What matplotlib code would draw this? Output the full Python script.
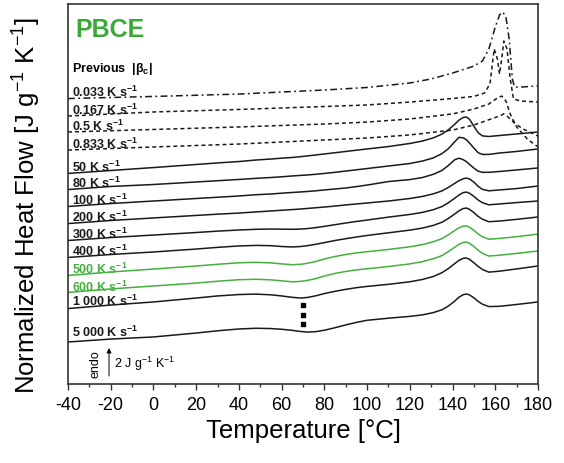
import numpy as np
import matplotlib
matplotlib.use("Agg")
import matplotlib.pyplot as plt
from matplotlib.ticker import MultipleLocator

plt.rcParams["font.family"] = ["Liberation Sans", "DejaVu Sans"]
plt.rcParams["mathtext.fontset"] = "custom"
plt.rcParams["mathtext.rm"] = "Liberation Sans"
plt.rcParams["mathtext.bf"] = "Liberation Sans:bold"
plt.rcParams["mathtext.it"] = "Liberation Sans:italic"
plt.rcParams["axes.unicode_minus"] = False

# ---- data: normalized heat flow (stacked, J g^-1 K^-1) vs temperature (deg C) ----
temp_fast = [-40, -20, 0, 20, 30, 40, 48, 55, 60, 65, 69, 72, 76, 80, 85, 90, 95, 100,
             110, 120, 126, 131, 135, 138, 141, 143, 145, 146.5, 148, 150, 152, 154,
             157, 162, 170, 180]

hf_5000 = [3.00, 3.21, 3.36, 3.64, 3.80, 3.93, 3.98, 3.96, 3.91, 3.83, 3.75, 3.71, 3.74,
           3.84, 4.02, 4.22, 4.40, 4.55, 4.70, 4.83, 4.94, 5.10, 5.30, 5.56, 5.92, 6.20,
           6.38, 6.43, 6.36, 6.15, 5.90, 5.70, 5.53, 5.55, 5.68, 5.86]
hf_1000 = [5.39, 5.64, 5.86, 6.14, 6.29, 6.39, 6.42, 6.37, 6.29, 6.19, 6.14, 6.18, 6.30,
           6.46, 6.62, 6.76, 6.88, 6.97, 7.12, 7.30, 7.47, 7.68, 7.95, 8.24, 8.60, 8.83,
           8.98, 9.00, 8.90, 8.66, 8.40, 8.18, 7.99, 8.06, 8.22, 8.43]
hf_600 = [6.54, 6.79, 7.00, 7.21, 7.34, 7.45, 7.48, 7.44, 7.37, 7.30, 7.33, 7.40, 7.53,
          7.71, 7.90, 8.04, 8.15, 8.23, 8.39, 8.58, 8.74, 8.95, 9.17, 9.45, 9.77, 9.98,
          10.11, 10.14, 10.05, 9.82, 9.55, 9.33, 9.14, 9.20, 9.33, 9.50]
hf_500 = [7.75, 8.00, 8.21, 8.43, 8.55, 8.66, 8.69, 8.65, 8.58, 8.52, 8.55, 8.62, 8.75,
          8.93, 9.11, 9.25, 9.36, 9.45, 9.61, 9.80, 9.96, 10.16, 10.38, 10.65, 10.96, 11.16,
          11.27, 11.29, 11.20, 10.97, 10.71, 10.52, 10.34, 10.40, 10.52, 10.71]
hf_400 = [9.04, 9.25, 9.43, 9.64, 9.76, 9.86, 9.90, 9.88, 9.82, 9.79, 9.82, 9.88, 9.98,
          10.10, 10.25, 10.38, 10.50, 10.61, 10.80, 10.99, 11.14, 11.33, 11.55, 11.82, 12.14,
          12.37, 12.53, 12.57, 12.47, 12.24, 11.97, 11.77, 11.59, 11.64, 11.76, 11.93]
hf_300 = [10.25, 10.46, 10.64, 10.82, 10.92, 11.00, 11.05, 11.07, 11.06, 11.05, 11.07, 11.10,
          11.17, 11.26, 11.38, 11.50, 11.61, 11.71, 11.92, 12.11, 12.26, 12.45, 12.67, 12.94,
          13.27, 13.50, 13.67, 13.71, 13.62, 13.40, 13.14, 12.95, 12.80, 12.86, 12.96, 13.07]
hf_200 = [11.46, 11.68, 11.86, 12.04, 12.13, 12.21, 12.29, 12.36, 12.41, 12.46, 12.50, 12.54,
          12.59, 12.64, 12.71, 12.79, 12.86, 12.93, 13.07, 13.25, 13.40, 13.58, 13.79, 14.04,
          14.33, 14.52, 14.66, 14.71, 14.64, 14.42, 14.12, 13.90, 13.80, 13.86, 13.96, 14.14]
hf_100 = [12.68, 12.89, 13.07, 13.25, 13.34, 13.43, 13.52, 13.57, 13.63, 13.68, 13.72, 13.75,
          13.80, 13.86, 13.93, 14.00, 14.10, 14.21, 14.46, 14.60, 14.75, 14.98, 15.25, 15.60,
          16.02, 16.13, 16.02, 15.88, 15.68, 15.42, 15.20, 15.12, 15.12, 15.18, 15.29, 15.43]
hf_80 = [13.89, 14.11, 14.25, 14.43, 14.52, 14.61, 14.69, 14.75, 14.80, 14.86, 14.90, 14.93,
         14.98, 15.04, 15.12, 15.21, 15.30, 15.39, 15.57, 15.75, 15.93, 16.15, 16.45, 16.80,
         17.30, 17.62, 17.58, 17.45, 17.20, 16.85, 16.52, 16.40, 16.40, 16.50, 16.61, 16.79]
hf_50 = [15.04, 15.25, 15.46, 15.68, 15.79, 15.89, 16.00, 16.07, 16.13, 16.18, 16.24, 16.29,
         16.36, 16.43, 16.52, 16.61, 16.70, 16.79, 16.96, 17.18, 17.36, 17.58, 17.85, 18.15,
         18.55, 18.85, 19.04, 19.07, 18.90, 18.40, 17.95, 17.72, 17.68, 17.75, 17.86, 18.00]

temp_0833 = [-40, 0, 40, 80, 100, 120, 140, 150, 158, 162, 164, 166, 169, 173, 177, 180]
hf_0833 = [16.71, 16.93, 17.14, 17.43, 17.57, 17.79, 18.14, 18.50, 18.93, 19.14, 19.29,
           19.07, 18.64, 18.21, 17.93, 17.71]

temp_05 = [-40, 0, 40, 80, 100, 120, 140, 150, 157, 161, 163, 165, 167, 170, 175, 180]
hf_05 = [18.00, 18.18, 18.36, 18.57, 18.71, 18.93, 19.29, 19.64, 20.00, 20.43, 20.57,
         20.21, 19.29, 18.36, 17.50, 16.93]

temp_0167 = [-40, 0, 40, 80, 100, 120, 140, 150, 155, 157.5, 159.5, 161, 162, 163, 164,
             165.5, 167, 168.5, 172, 180]
hf_0167 = [19.14, 19.43, 19.61, 19.82, 19.93, 20.14, 20.39, 20.54, 20.79, 21.43, 23.93,
           23.21, 22.14, 23.21, 24.50, 23.93, 21.79, 20.36, 20.21, 20.14]

temp_0033 = [-40, 0, 40, 80, 100, 120, 130, 140, 150, 154, 157, 160, 162, 163.5, 165,
             166.5, 168, 169, 172, 180]
hf_0033 = [20.39, 20.54, 20.71, 21.00, 21.18, 21.50, 21.79, 22.21, 22.71, 23.07, 23.93,
           25.50, 26.36, 26.57, 26.21, 24.64, 21.79, 21.21, 21.21, 21.29]

rate_labels = ["0.033", "0.167", "0.5", "0.833", "50", "80", "100", "200", "300",
               "400", "500", "600", "1 000", "5 000"]

BLACK = "#1a1a1a"
GREEN = "#45b03f"
DASHDOT = (0, (4.5, 2.2, 1.2, 2.2))
DASHED = (0, (2.6, 2.0))

curves = [
    (temp_0033, hf_0033, BLACK, DASHDOT, 1.5),
    (temp_0167, hf_0167, BLACK, DASHED, 1.5),
    (temp_05, hf_05, BLACK, DASHED, 1.5),
    (temp_0833, hf_0833, BLACK, DASHED, 1.5),
    (temp_fast, hf_50, BLACK, "-", 1.5),
    (temp_fast, hf_80, BLACK, "-", 1.5),
    (temp_fast, hf_100, BLACK, "-", 1.5),
    (temp_fast, hf_200, BLACK, "-", 1.5),
    (temp_fast, hf_300, BLACK, "-", 1.5),
    (temp_fast, hf_400, BLACK, "-", 1.5),
    (temp_fast, hf_500, GREEN, "-", 1.5),
    (temp_fast, hf_600, GREEN, "-", 1.2),
    (temp_fast, hf_1000, BLACK, "-", 2.3),
    (temp_fast, hf_5000, BLACK, "-", 4.0),
]

fig = plt.figure(figsize=(5.64, 4.64), dpi=100)
ax = fig.add_axes([68 / 564, 1 - 385 / 464, 470 / 564, 380 / 464])

for (t, hf, color, ls, lift), lab in zip(curves, rate_labels):
    ax.plot(t, hf, color=color, lw=1.1, ls=ls, solid_joinstyle="round")
    ax.annotate(lab + r" K s$^{\mathbf{-1}}$", xy=(t[0], hf[0]), xytext=(3, lift),
                textcoords="offset points", ha="left", va="baseline",
                fontsize=9, fontweight="bold", color=color)

# break marker between the 1 000 and 5 000 K/s traces
t_gap = 70
y_mid = (np.interp(t_gap, temp_fast, hf_1000) + np.interp(t_gap, temp_fast, hf_5000)) / 2
ax.plot([t_gap] * 3, [y_mid + 0.68, y_mid, y_mid - 0.68], ls="none", marker="s",
        ms=3.2, color="black")

ax.set_xlim(-40, 180)
ax.set_ylim(0, 380 / 14)
ax.xaxis.set_major_locator(MultipleLocator(20))
ax.xaxis.set_minor_locator(MultipleLocator(10))
ax.tick_params(axis="x", which="major", direction="out", length=4.5, width=1.0,
               labelsize=13, pad=4, color="#333333")
ax.tick_params(axis="x", which="minor", direction="out", length=2.5, width=1.0,
               color="#333333")
ax.set_yticks([])
for sp in ax.spines.values():
    sp.set_color("#333333")
    sp.set_linewidth(1.2)

ax.set_xlabel("Temperature [°C]", fontsize=18.5, labelpad=4)
ax.text(-0.087, 0.471, r"Normalized Heat Flow [J g$^{-1}$ K$^{-1}$]", transform=ax.transAxes,
        rotation=90, ha="center", va="center", fontsize=18.5)

ax.text(0.015, 0.916, "PBCE", transform=ax.transAxes, fontsize=18, fontweight="bold",
        color="#3aaa35", ha="left", va="baseline")
ax.text(0.0085, 0.824, r"Previous  |$\mathbf{\beta}_\mathbf{c}$|", transform=ax.transAxes,
        fontsize=9, fontweight="bold", ha="left", va="baseline")

# endothermic direction / scale bar: 2 J g^-1 K^-1
ax.annotate("", xy=(-20.8, 2.57), xytext=(-20.8, 0.57),
            arrowprops=dict(arrowstyle="-|>", lw=0.7, color="black", mutation_scale=7,
                            shrinkA=0, shrinkB=0))
ax.text(-26.9, 1.5, "endo", rotation=90, ha="center", va="center", fontsize=9)
ax.text(-18.3, 1.5, r"2 J g$^{-1}$ K$^{-1}$", ha="left", va="center", fontsize=9)

fig.savefig("out.png", dpi=100)
